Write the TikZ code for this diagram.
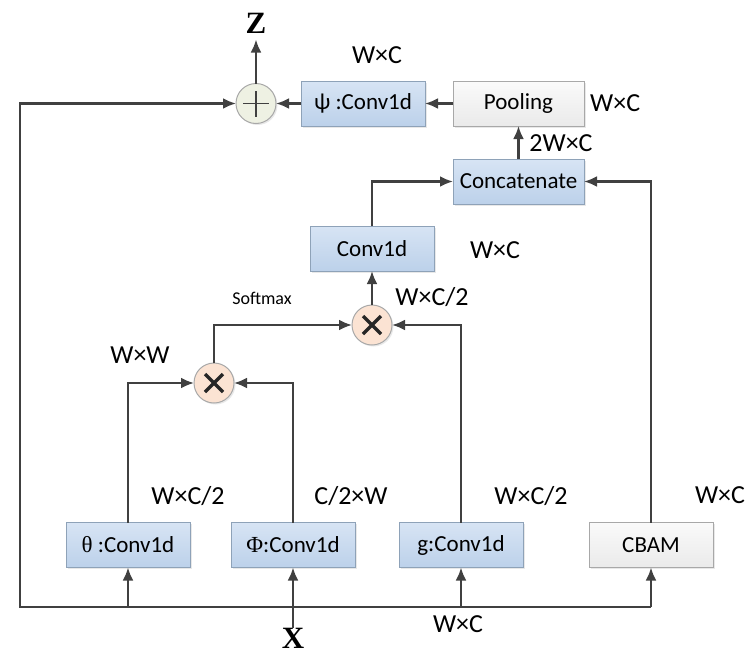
\documentclass[tikz,border=0pt]{standalone}
\usepackage{fontspec}
\setmainfont{Carlito}
\newfontfamily\grserif{Liberation Serif}
\usetikzlibrary{arrows.meta,positioning,shadows}

\definecolor{linegray}{HTML}{404040}
\definecolor{bluetop}{HTML}{D7E4F4}
\definecolor{bluebot}{HTML}{BCD1EA}
\definecolor{blueedge}{HTML}{8EA2B8}
\definecolor{graytop}{HTML}{FAFAFA}
\definecolor{graybot}{HTML}{EAEAEA}
\definecolor{grayedge}{HTML}{A8A8A8}
\definecolor{plusfill}{HTML}{EEF1E3}
\definecolor{mulfill}{HTML}{FBE3D3}

\begin{document}
\begin{tikzpicture}[
    x=1pt, y=-1pt,
    >={Latex[length=13pt,width=11pt]},
    flow/.style={->, draw=linegray, line width=2.3pt},
    conv_box/.style={draw=blueedge, line width=1pt, top color=bluetop, bottom color=bluebot,
        minimum width=124pt, minimum height=45pt, inner sep=0pt, outer sep=0pt,
        font=\fontsize{23}{27}\selectfont,
        drop shadow={opacity=0.18, shadow xshift=1.5pt, shadow yshift=-1.5pt}},
    plain_box/.style={conv_box, draw=grayedge, top color=graytop, bottom color=graybot},
    op_node/.style={circle, draw=grayedge, line width=1pt, minimum size=40pt, inner sep=0pt, outer sep=0pt,
        drop shadow={opacity=0.18, shadow xshift=1.5pt, shadow yshift=-1.5pt}},
    plus_op/.style={op_node, fill=plusfill,
        path picture={\draw[linegray, line width=1.6pt]
            ([xshift=-13pt]path picture bounding box.center) -- ([xshift=13pt]path picture bounding box.center)
            ([yshift=-13pt]path picture bounding box.center) -- ([yshift=13pt]path picture bounding box.center);}},
    mul_op/.style={op_node, fill=mulfill,
        path picture={\draw[black!85, line width=3.4pt]
            ([shift={(-9pt,-9pt)}]path picture bounding box.center) -- ([shift={(9pt,9pt)}]path picture bounding box.center)
            ([shift={(-9pt,9pt)}]path picture bounding box.center) -- ([shift={(9pt,-9pt)}]path picture bounding box.center);}},
    dim_lbl/.style={font=\fontsize{26}{30}\selectfont, inner sep=0pt},
    io_lbl/.style={font=\grserif\bfseries\fontsize{31}{34}\selectfont, inner sep=6pt, outer sep=0pt}
]
\useasboundingbox (0,0) rectangle (752,656);

% --- NODES ---
\node[plain_box] (cbam) at (651,545) {CBAM};
\node[conv_box, left=66pt of cbam] (gconv) {g:Conv1d};
\node[conv_box, left=44pt of gconv] (phiconv) {{\grserif Φ}:Conv1d};
\node[conv_box, left=41pt of phiconv] (thetaconv) {{\grserif θ} :Conv1d};

\node[mul_op] (mul1) at (214,383) {};
\node[mul_op] (mul2) at (372,325) {};
\node[conv_box, above=34pt of mul2] (conv) {Conv1d};

\node[conv_box, minimum width=131pt] (concat) at (518.5,181.5) {Concatenate};
\node[plain_box, minimum width=131pt, above=33pt of concat] (pool) {Pooling};
\node[conv_box, left=28pt of pool] (psiconv) {ψ :Conv1d};
\node[plus_op, left=25pt of psiconv] (plus) {};

\node[io_lbl, above=44pt of plus] (zout) {Z};
\node[io_lbl, inner sep=0pt] (xin) at (293,638) {X};

\coordinate (busL) at (20,607);

% dimension labels
\node[dim_lbl] (dpsi) at (377,55) {W×C};
\node[dim_lbl, right=6pt of pool] (dpool) {W×C};
\node[dim_lbl] (dcat) at (561,143) {2W×C};
\node[dim_lbl] (dconv) at (495,250) {W×C};
\node[font=\fontsize{18}{20}\selectfont] (smax) at (262,298) {Softmax};
\node[dim_lbl] (dmul2) at (432,297) {W×C/2};
\node[dim_lbl] (dmul1) at (140,355) {W×W};
\node[dim_lbl] (dtheta) at (188,496) {W×C/2};
\node[dim_lbl] (dphi) at (351,496) {C/2×W};
\node[dim_lbl] (dg) at (531,496) {W×C/2};
\node[dim_lbl] (dcbam) at (720,495) {W×C};
\node[dim_lbl] (dbus) at (458,624) {W×C};

% --- EDGES ---
\draw[flow] (xin.north) -- (phiconv.south);
\draw[flow] (busL -| thetaconv) -- (thetaconv.south);
\draw[flow] (busL -| gconv) -- (gconv.south);
\draw[flow] (busL -| cbam) -- (cbam.south);
\draw[flow] (busL -| cbam) -- (busL) |- (plus.west);

\draw[flow] (thetaconv.north) |- (mul1.west);
\draw[flow] (phiconv.north) |- (mul1.east);
\draw[flow] (mul1.north) |- (mul2.west);
\draw[flow] (gconv.north) |- (mul2.east);
\draw[flow] (mul2.north) -- (conv.south);

\draw[flow] (conv.north) |- (concat.west);
\draw[flow] (cbam.north) |- (concat.east);
\draw[flow] (concat.north) -- (pool.south);
\draw[flow] (pool.west) -- (psiconv.east);
\draw[flow] (psiconv.west) -- (plus.east);
\draw[flow] (plus.north) -- (zout.south);

\end{tikzpicture}
\end{document}
